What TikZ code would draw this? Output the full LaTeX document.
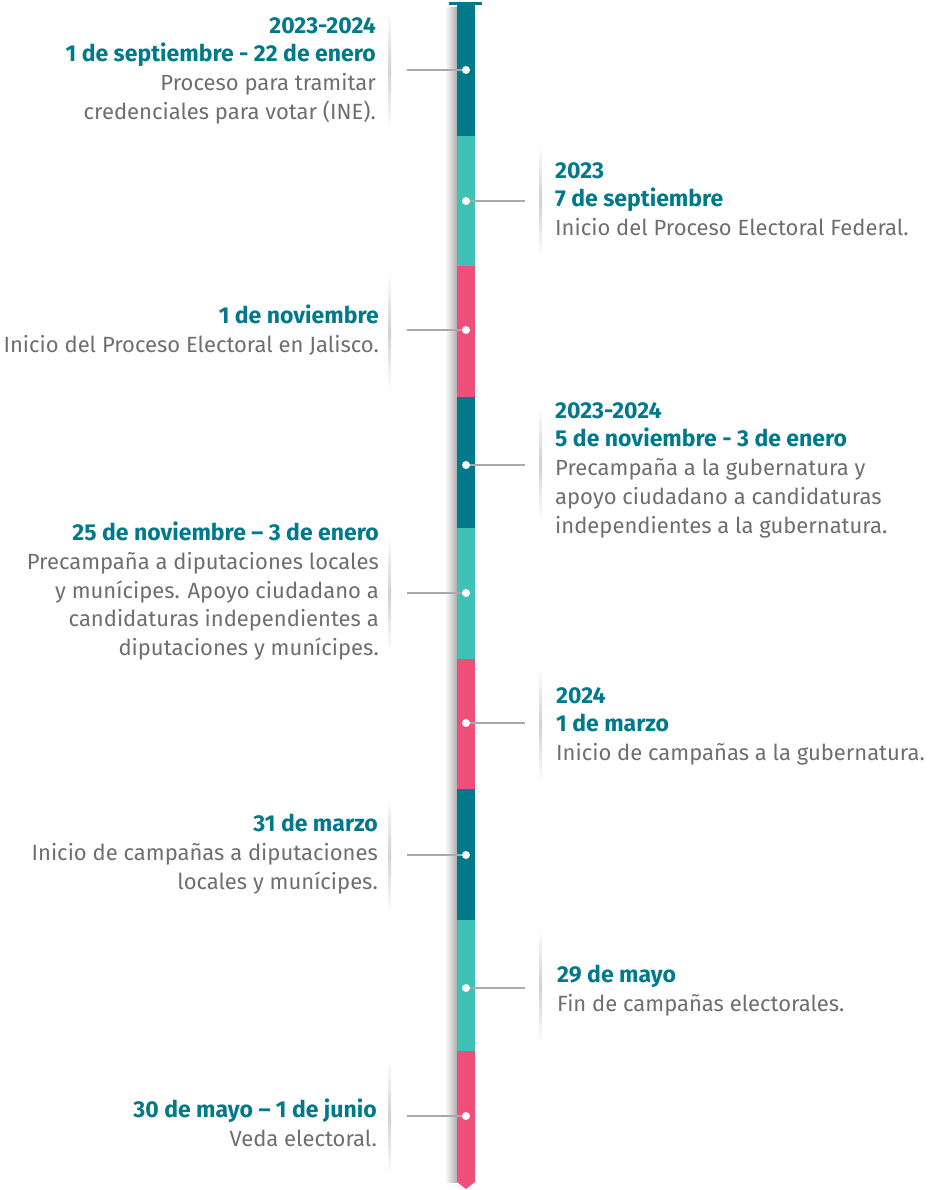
\documentclass[tikz,border=0pt]{standalone}
\usepackage{fontspec}
\setmainfont{Fira Sans}
\usetikzlibrary{positioning}

\definecolor{tealdark}{HTML}{00798A}
\definecolor{teallight}{HTML}{3FC1B5}
\definecolor{pinkbar}{HTML}{EF4F78}
\definecolor{txtgray}{HTML}{6D6E71}
\definecolor{linegray}{HTML}{A7A9AC}

\tikzset{
  dot/.style={circle, fill=white, inner sep=0pt, minimum size=8pt},
  conn/.style={draw=linegray, line width=1.5pt},
  txtbase/.style={inner sep=0pt, text=txtgray, font=\fontsize{22}{28.7}\selectfont},
  lefttxt/.style={txtbase, anchor=north east, align=right},
  righttxt/.style={txtbase, anchor=north west, align=left},
  cardshadow/.style={top color=white, bottom color=white, middle color=black!18},
}
\newcommand\fecha[1]{{\color{tealdark}\fontsize{23}{28.7}\selectfont\bfseries #1}}
\newcommand\firstline{\rule{0pt}{17pt}}

\begin{document}
\begin{tikzpicture}[x=1pt, y=-1pt]

  \newcommand\barL{457}
  \newcommand\barR{475}
  \newcommand\barC{466}

  \useasboundingbox (0,0) rectangle (932,1190);

  %% soft shadows of the cards and of the bar
  \shade[left color=white, right color=black!32] (445,8) rectangle (\barL,1182);
  \foreach \ya/\yb in {12/130, 274/390, 536/652, 797/913, 1059/1175}
    \shade[cardshadow] (388,\ya) rectangle (391,\yb);
  \foreach \ya/\yb in {143/258, 405/521, 667/782, 928/1044}
    \shade[cardshadow] (539,\ya) rectangle (542,\yb);

  %% the bar
  \foreach \ya/\yb/\c in {5/136/tealdark, 136/266/teallight, 266/397/pinkbar,
      397/528/tealdark, 528/659/teallight, 659/789/pinkbar,
      789/920/tealdark, 920/1051/teallight}
    \fill[\c] (\barL,\ya) rectangle (\barR,\yb);
  \fill[pinkbar] (\barL,1051) -- (\barR,1051) -- (\barR,1182) -- (\barC,1189)
    -- (\barL,1182) -- cycle;
  \draw[tealdark, line width=3pt] (449,4) -- (482,4); % top cap

  %% dots on the bar
  \node[dot] (d1) at (\barC,70) {};
  \node[dot] (d2) at (\barC,201) {};
  \node[dot] (d3) at (\barC,330) {};
  \node[dot] (d4) at (\barC,465) {};
  \node[dot] (d5) at (\barC,593) {};
  \node[dot] (d6) at (\barC,723) {};
  \node[dot] (d7) at (\barC,855) {};
  \node[dot] (d8) at (\barC,988) {};
  \node[dot] (d9) at (\barC,1116) {};

  %% connector ends
  \coordinate (c1) at (407,70);
  \coordinate (c2) at (525,201);
  \coordinate (c3) at (407,330);
  \coordinate (c4) at (525,465);
  \coordinate (c5) at (407,593);
  \coordinate (c6) at (525,723);
  \coordinate (c7) at (407,855);
  \coordinate (c8) at (525,988);
  \coordinate (c9) at (407,1116);

  \draw[conn] (c1) -- (d1);
  \draw[conn] (d2) -- (c2);
  \draw[conn] (c3) -- (d3);
  \draw[conn] (d4) -- (c4);
  \draw[conn] (c5) -- (d5);
  \draw[conn] (d6) -- (c6);
  \draw[conn] (c7) -- (d7);
  \draw[conn] (d8) -- (c8);
  \draw[conn] (c9) -- (d9);

  %% texts
  \node[lefttxt] (t1) at (376,16) {\firstline\fecha{2023-2024}\\
    \fecha{1 de septiembre - 22 de enero}\\
    Proceso para tramitar\\
    credenciales para votar (INE).};
  \node[righttxt] (t2) at (555,161) {\firstline\fecha{2023}\\
    \fecha{7 de septiembre}\\
    Inicio del Proceso Electoral Federal.};
  \node[lefttxt] (t3) at (379,305) {\firstline\fecha{1 de noviembre}\\
    Inicio del Proceso Electoral en Jalisco.};
  \node[righttxt] (t4) at (555,401) {\firstline\fecha{2023-2024}\\
    \fecha{5 de noviembre - 3 de enero}\\
    Precampaña a la gubernatura y\\
    apoyo ciudadano a candidaturas\\
    independientes a la gubernatura.};
  \node[lefttxt] (t5) at (379,522) {\firstline\fecha{25 de noviembre – 3 de enero}\\
    Precampaña a diputaciones locales\\
    y munícipes. Apoyo ciudadano a\\
    candidaturas independientes a\\
    diputaciones y munícipes.};
  \node[righttxt] (t6) at (556,686) {\firstline\fecha{2024}\\
    \fecha{1 de marzo}\\
    Inicio de campañas a la gubernatura.};
  \node[lefttxt] (t7) at (378,814) {\firstline\fecha{31 de marzo}\\
    Inicio de campañas a diputaciones\\
    locales y munícipes.};
  \node[righttxt] (t8) at (557,965) {\firstline\fecha{29 de mayo}\\
    Fin de campañas electorales.};
  \node[lefttxt] (t9) at (377,1099) {\firstline\fecha{30 de mayo – 1 de junio}\\
    Veda electoral.};

\end{tikzpicture}
\end{document}
